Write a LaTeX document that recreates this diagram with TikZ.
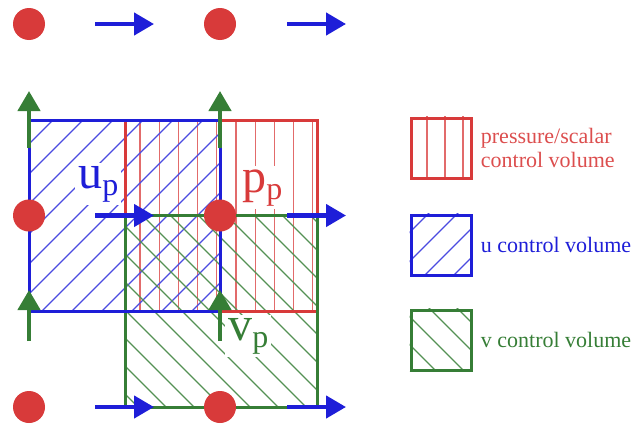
\documentclass[tikz,border=0pt]{standalone}
\usepackage{fontspec}
\setmainfont{Liberation Serif}
\usetikzlibrary{arrows.meta}
\usetikzlibrary{positioning}
\definecolor{cv-red}{HTML}{D83A3A}
\definecolor{cv-blue}{HTML}{1E1ED8}
\definecolor{cv-green}{HTML}{367E36}
\newcommand{\cvlab}[2]{{\fontsize{24}{24}\selectfont #1}\raisebox{-3.5pt}{\fontsize{16}{16}\selectfont #2}}

\begin{document}
\begin{tikzpicture}[
    x=0.5pt, y=-0.5pt,
    >={Triangle[length=10pt,width=11pt]},
    font=\fontsize{11}{12}\selectfont
  ]

  % Global Style Definitions
  \tikzset{
    pdot/.style={circle, fill=cv-red, minimum size=16pt, inner sep=0pt},
    uarrow/.style={->, cv-blue, line width=2.2pt},
    varrow/.style={->, cv-green, line width=2.2pt},
    pbox/.style={draw=cv-red, line width=1.5pt},
    ubox/.style={draw=cv-blue, line width=1.5pt},
    vbox/.style={draw=cv-green, line width=1.5pt},
    phatch/.style={cv-red!75, line width=0.6pt},
    uhatch/.style={cv-blue!80, line width=0.6pt},
    vhatch/.style={cv-green!85, line width=0.6pt},
    cvlabel/.style={fill=white, inner sep=1.5pt, anchor=base west},
    legbox/.style={minimum size=30pt, inner sep=0pt, line width=1.5pt},
    legtext/.style={inner sep=0pt, align=left, right=4pt of #1}
  }

  \useasboundingbox (0,0) rectangle (635,423);

  % Hatching of the three control volumes
  \begin{scope}
    \clip (125,120) rectangle (317,311);
    \foreach \k in {0,...,9}
      \draw[phatch] ({140+19.2*\k},100) -- ++(0,230);
  \end{scope}
  \begin{scope}
    \clip (29,120) rectangle (220,311);
    \foreach \k in {0,...,13}
      \draw[uhatch] ({143+30*\k},0) -- ++(-420,420);
  \end{scope}
  \begin{scope}
    \clip (125,215.5) rectangle (317,407);
    \foreach \k in {0,...,15}
      \draw[vhatch] ({-297+28*\k},0) -- ++(420,420);
  \end{scope}

  % Labels at the nodes of the volumes
  \node (up) [cvlabel, text=cv-blue]  at (75,188)  {\cvlab{u}{p}};
  \node (pp) [cvlabel, text=cv-red]   at (239,192) {\cvlab{p}{p}};
  \node (vp) [cvlabel, text=cv-green] at (225,340) {\cvlab{v}{p}};

  % Control volume borders
  \draw[pbox] (125,120) rectangle (317,311);
  \draw[vbox] (125,215.5) rectangle (317,407);
  \draw[ubox] (29,120) rectangle (220,311);

  % Velocity components on the staggered faces
  \foreach \i in {0,1} {
    \draw[varrow] ({29+191*\i},148) -- ++(0,-57);
    \draw[varrow] ({29+191*\i},341) -- ++(0,-51);
  }
  \foreach \i in {0,1}
    \foreach \j in {0,1,2}
      \draw[uarrow] ({95+192*\i},{24+191.5*\j}) -- ++(59,0);

  % Pressure points
  \foreach \i in {0,1}
    \foreach \j in {0,1,2}
      \node (p\i\j) [pdot] at ({29+191*\i},{24+191.5*\j}) {};

  % Legend
  \node (lgp) [legbox, draw=cv-red]   at (441,148) {};
  \node (lgu) [legbox, draw=cv-blue]  at (441,245) {};
  \node (lgv) [legbox, draw=cv-green] at (441,340) {};
  \begin{scope}
    \clip (lgp.south west) rectangle (lgp.north east);
    \foreach \k in {0,1,2}
      \draw[phatch] ({427+18*\k},100) -- ++(0,100);
  \end{scope}
  \begin{scope}
    \clip (lgu.south west) rectangle (lgu.north east);
    \foreach \k in {0,...,4}
      \draw[uhatch] ({613+29*\k},0) -- ++(-420,420);
  \end{scope}
  \begin{scope}
    \clip (lgv.south west) rectangle (lgv.north east);
    \foreach \k in {0,...,4}
      \draw[vhatch] ({37+28*\k},0) -- ++(420,420);
  \end{scope}
  \node[legbox, draw=cv-red]   at (lgp) {};
  \node[legbox, draw=cv-blue]  at (lgu) {};
  \node[legbox, draw=cv-green] at (lgv) {};

  \node (tp) [legtext=lgp, text=cv-red!90]  {pressure/scalar\\control volume};
  \node (tu) [legtext=lgu, text=cv-blue]    {u control volume};
  \node (tv) [legtext=lgv, text=cv-green]   {v control volume};

\end{tikzpicture}
\end{document}
